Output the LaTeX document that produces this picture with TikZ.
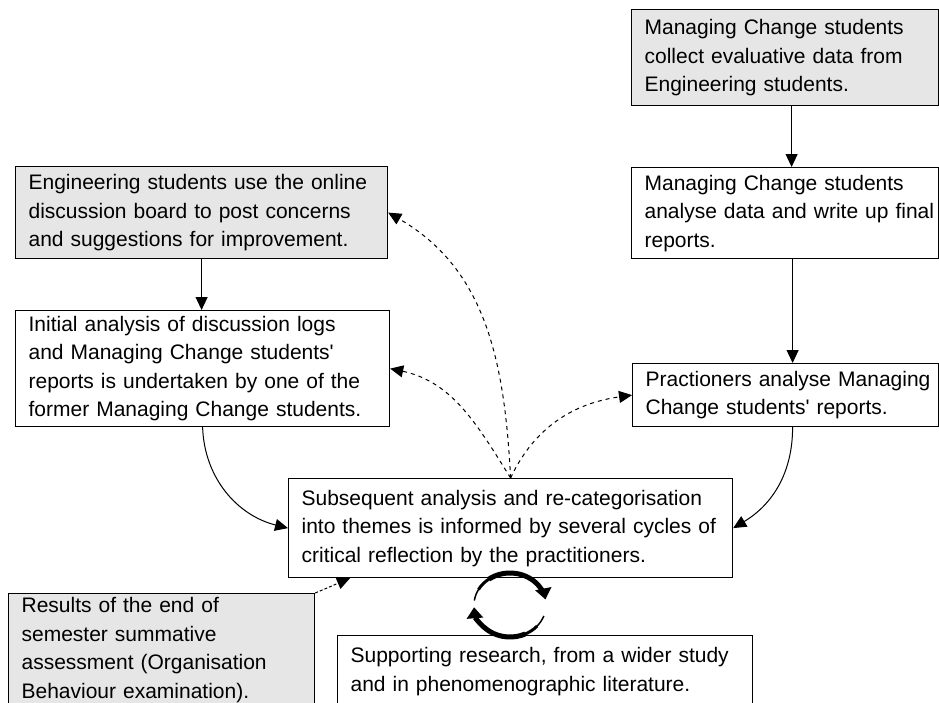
\documentclass[tikz,border=0pt]{standalone}
\usepackage{fontspec}
\setmainfont{Liberation Sans}
\usetikzlibrary{arrows.meta,calc}
\definecolor{boxgray}{RGB}{230,230,230}
\begin{document}
\begin{tikzpicture}[x=1pt,y=1pt,
  box/.style={draw=black, line width=1.2pt, inner xsep=13pt, inner ysep=0pt,
    align=left, anchor=north west, font=\fontsize{21}{28.5}\selectfont},
  shaded/.style={box, fill=boxgray},
  conn/.style={line width=1pt, -{Triangle[length=13pt,width=12pt]}},
  dconn/.style={conn, dash pattern=on 4pt off 4pt},
  cycthin/.style={line width=1.5pt},
  cycmid/.style={line width=3pt},
  cyc/.style={line width=5pt, -{Triangle[length=11pt,width=16pt]}}]
\useasboundingbox (0,0) rectangle (939,-702);
\clip (0,0) rectangle (939,-702);
\fill[white] (0,0) rectangle (939,-702);

% boxes
\node[shaded, minimum width=307pt, minimum height=96pt, text width=281pt] (A) at (631,-9)
  {\mbox{Managing Change students}\\\mbox{collect evaluative data from}\\\mbox{Engineering students.}};
\node[box, minimum width=307pt, minimum height=91pt, text width=281pt] (B) at (631,-167)
  {\mbox{Managing Change students}\\\mbox{analyse data and write up final}\\\mbox{reports.}};
\node[box, minimum width=306pt, minimum height=63pt, text width=280pt] (C) at (632,-363)
  {\mbox{Practioners analyse Managing}\\\mbox{Change students\textquotesingle{} reports.}};
\node[shaded, minimum width=372pt, minimum height=92pt, text width=346pt] (D) at (15,-166)
  {\mbox{Engineering students use the online}\\\mbox{discussion board to post concerns}\\\mbox{and suggestions for improvement.}};
\node[box, minimum width=374pt, minimum height=116pt, text width=348pt] (E) at (15,-310)
  {\mbox{Initial analysis of discussion logs}\\\mbox{and Managing Change students\textquotesingle}\\\mbox{reports is undertaken by one of the}\\\mbox{former Managing Change students.}};
\node[box, minimum width=444pt, minimum height=99pt, text width=418pt] (F) at (288,-478)
  {\mbox{Subsequent analysis and re-categorisation}\\\mbox{into themes is informed by several cycles of}\\\mbox{critical reflection by the practitioners.}};
\node[shaded, inner ysep=4pt, minimum width=306pt, text width=280pt] (G) at (8,-593)
  {\mbox{Results of the end of}\\\mbox{semester summative}\\\mbox{assessment (Organisation}\\\mbox{Behaviour examination).}};
\node[box, inner ysep=12pt, minimum width=415pt, text width=389pt] (H) at (337,-635)
  {\mbox{Supporting research, from a wider study}\\\mbox{and in phenomenographic literature.}};

% solid connectors
\draw[conn] ([xshift=6.5pt]A.south) -- ([xshift=6.5pt]B.north);
\draw[conn] ([xshift=7.5pt]B.south) -- ([xshift=7pt]C.north);
\draw[conn] (D.south) -- (D.south |- E.north);
\draw[conn] (E.south) to[out=-88, in=166] (F.west);
\draw[conn] ([xshift=7pt]C.south) to[out=-90, in=31] (F.east);

% dashed connectors from F
\coordinate (S) at (F.north);
\draw[dconn] (S) to[out=93, in=-30] (D.east);
\draw[dconn] (S) to[out=122, in=-12] (E.east);
\draw[dconn] (S) to[out=65, in=188] (C.west);
\draw[conn, dash pattern=on 3pt off 2pt] (G.north east) -- ([xshift=62pt]F.south west);

% cycle symbol
\coordinate (Z) at (510,-605);
\draw[cycthin] ([shift={(172:36 and 32)}]Z) arc[start angle=172, end angle=150, x radius=36, y radius=32];
\draw[cycmid] ([shift={(151:36 and 32)}]Z) arc[start angle=151, end angle=125, x radius=36, y radius=32];
\draw[cyc] ([shift={(126:36 and 32)}]Z) arc[start angle=126, end angle=10, x radius=36, y radius=32];
\draw[cycthin] ([shift={(-20:36 and 32)}]Z) arc[start angle=-20, end angle=-42, x radius=36, y radius=32];
\draw[cycmid] ([shift={(-41:36 and 32)}]Z) arc[start angle=-41, end angle=-66, x radius=36, y radius=32];
\draw[cyc] ([shift={(-65:36 and 32)}]Z) arc[start angle=-65, end angle=-176, x radius=36, y radius=32];
\end{tikzpicture}
\end{document}
